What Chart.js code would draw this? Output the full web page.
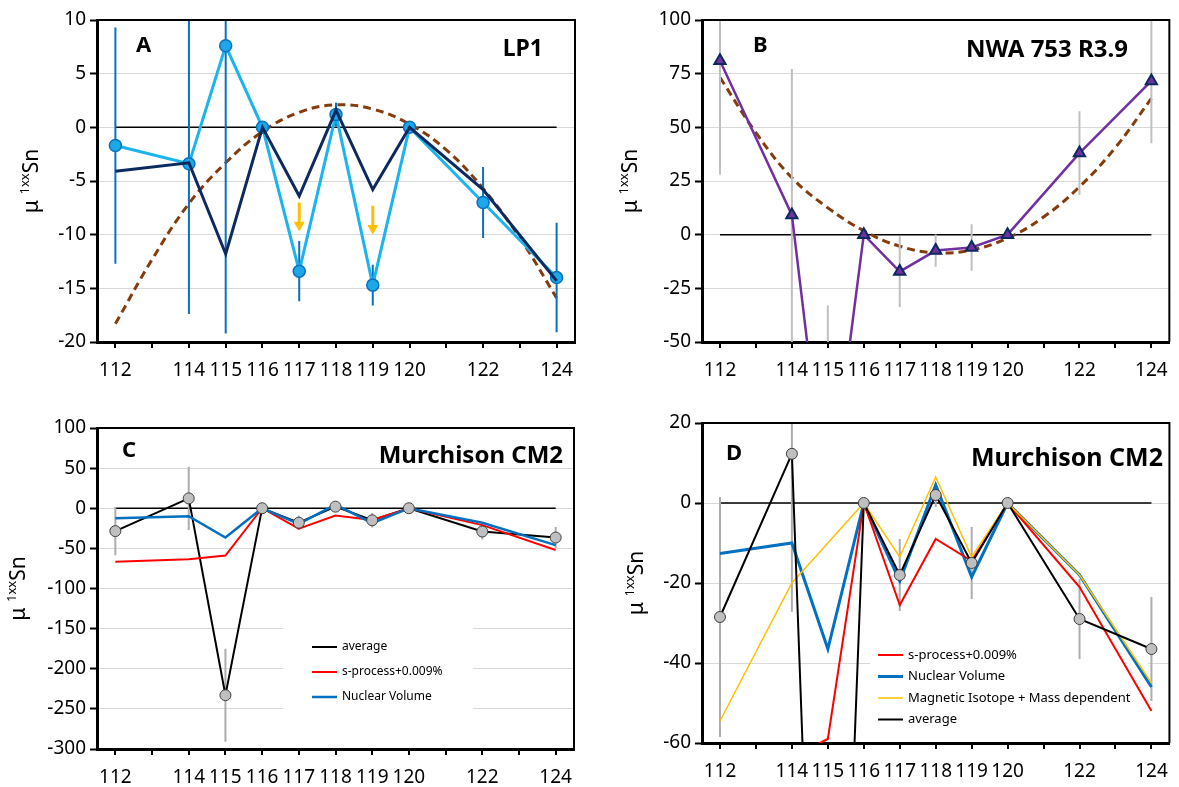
<!DOCTYPE html>
<html>
<head>
<meta charset="utf-8">
<script src="https://cdn.jsdelivr.net/npm/chart.js@4.4.1/dist/chart.umd.min.js"></script>
<style>
  body { margin: 0; width: 1179px; height: 787px; overflow: hidden; background: #fff; position: relative; }
  canvas { position: absolute; }
</style>
</head>
<body>
<canvas id="chartA" width="590" height="390" style="left:0;top:0"></canvas>
<canvas id="chartB" width="589" height="390" style="left:590px;top:0"></canvas>
<canvas id="chartC" width="590" height="400" style="left:0;top:390px"></canvas>
<canvas id="chartD" width="589" height="400" style="left:590px;top:390px"></canvas>
<script>
// Sn isotopes shown in every panel
var masses = [112, 114, 115, 116, 117, 118, 119, 120, 122, 124];
// every tick on the x axis (113, 121 and 123 get no label)
var massTicks = [112, 113, 114, 115, 116, 117, 118, 119, 120, 121, 122, 123, 124];

// A - LP1
var lp1Mu = [-1.7, -3.4, 7.6, 0, -13.4, 1.2, -14.7, 0, -7.0, -14.0];
var lp1Err = [11.0, 14.0, 26.8, 0, 2.8, 1.1, 1.9, 0, 3.3, 5.1];
var lp1Model = [-4.1, -3.3, -11.8, 0, -6.4, 1.6, -5.8, 0, -5.8, -14.3];
var lp1Fit = [-18.3, -12.3, -7.1, -3.3, -0.4, 1.4, 2.1, 1.7, 0.3, -2.1, -5.7, -10.3, -15.9];
var arrowMasses = [117, 119];
var arrowTop = [-7.0, -7.3];
var arrowHead = [-9.1, -9.4];

// B - NWA 753 R3.9
var nwaMu = [81, 9.2, -130, 0, -17.2, -7.4, -6, 0, 38, 71.6];
var nwaErr = [53, 68, 97, 0, 16.5, 7.5, 10.8, 0, 19.5, 29];
var nwaFit = [73.2, 47.5, 26.5, 12.5, 1.8, -5.4, -8.4, -7.1, -1.6, 8.2, 22.3, 40.6, 63.5];

// C, D - Murchison CM2
var murAvg = [-28.5, 12.3, -233, 0, -18, 2, -15, 0, -29, -36.5];
var murErr = [30, 39.5, 58, 0, 9, 3, 9, 0, 10, 13];
var sProcess = [-66.6, -63.5, -59, 0, -25.5, -9, -14.5, 0, -21, -52];
var nuclearVolume = [-12.6, -10, -36.5, 0, -19.5, 4.5, -18.5, 0, -18, -46];
var magneticMass = [-54.5, -20, -10, 0, -13.5, 6.5, -13.5, 0, -18, -45];

function pts(xs, ys) {
  return xs.map(function (x, i) { return { x: x, y: ys[i] }; });
}

// vertical bars, separated by gaps
function errBars(xs, ys, errs) {
  var out = [];
  xs.forEach(function (x, i) {
    if (!errs[i]) return;
    out.push({ x: x, y: ys[i] + errs[i] }, { x: x, y: ys[i] - errs[i] }, { x: x, y: null });
  });
  return out;
}

function zeroLine() {
  return { data: [{ x: 112, y: 0 }, { x: 124, y: 0 }], borderColor: '#000', borderWidth: 1.5, pointRadius: 0 };
}

function makeScales(yMin, yMax, yStep, yWidth, xHeight) {
  return {
    x: {
      type: 'linear', min: 111.5, max: 124.5, offset: false,
      afterBuildTicks: function (s) { s.ticks = massTicks.map(function (v) { return { value: v }; }); },
      afterFit: function (s) { s.height = xHeight; },
      ticks: {
        autoSkip: false, maxRotation: 0, padding: 11, color: '#000',
        callback: function (v) { return masses.indexOf(v) >= 0 ? String(v) : ''; }
      },
      grid: { drawOnChartArea: false, drawTicks: true, tickLength: 6, color: '#000', lineWidth: 2 },
      border: { color: '#000', width: 3 }
    },
    y: {
      min: yMin, max: yMax,
      afterFit: function (s) { s.width = yWidth; },
      ticks: { stepSize: yStep, padding: 4, color: '#000' },
      grid: { color: '#d9d9d9', lineWidth: 1, tickColor: '#000', tickWidth: 2, tickLength: 7 },
      border: { color: '#000', width: 3 }
    }
  };
}

var panelText = {
  id: 'panelText',
  beforeDatasetsDraw: function (chart, args, opts) {
    var lg = opts.legend;
    if (!lg) return;
    var ctx = chart.ctx;
    ctx.save();
    ctx.fillStyle = '#fff';
    ctx.fillRect(lg.box[0], lg.box[1], lg.box[2], lg.box[3]);
    ctx.font = lg.size + 'px "Noto Sans"';
    ctx.textBaseline = 'middle';
    ctx.textAlign = 'left';
    lg.items.forEach(function (di, k) {
      var ds = chart.data.datasets[di];
      var y = lg.y + k * lg.gap;
      ctx.strokeStyle = ds.borderColor;
      ctx.lineWidth = ds.borderWidth;
      ctx.beginPath();
      ctx.moveTo(lg.x, y);
      ctx.lineTo(lg.x + 25, y);
      ctx.stroke();
      ctx.fillStyle = '#000';
      ctx.fillText(ds.label, lg.x + 30, y);
    });
    ctx.restore();
  },
  afterDraw: function (chart, args, opts) {
    var ctx = chart.ctx, area = chart.chartArea;
    ctx.save();
    // top and right edges of the plot box
    ctx.strokeStyle = '#000';
    ctx.lineWidth = 2;
    ctx.beginPath();
    ctx.moveTo(area.left, area.top);
    ctx.lineTo(area.right, area.top);
    ctx.lineTo(area.right, area.bottom);
    ctx.stroke();

    ctx.fillStyle = '#000';
    ctx.textBaseline = 'alphabetic';
    ctx.textAlign = 'left';
    ctx.font = 'bold 22px "Noto Sans"';
    ctx.fillText(opts.letter, opts.letterX, opts.letterY);
    ctx.textAlign = 'right';
    ctx.font = 'bold ' + opts.nameSize + 'px "Noto Sans"';
    ctx.fillText(opts.name, opts.nameRight, opts.nameY);

    // y title: μ ¹ˣˣSn
    ctx.translate(opts.titleX, (area.top + area.bottom) / 2);
    ctx.rotate(-Math.PI / 2);
    var big = '21px "Noto Sans"', small = '13px "Noto Sans"';
    ctx.font = big;
    var w1 = ctx.measureText('μ ').width, w3 = ctx.measureText('Sn').width;
    ctx.font = small;
    var w2 = ctx.measureText('1xx').width;
    var x0 = -(w1 + w2 + w3) / 2;
    ctx.textAlign = 'left';
    ctx.font = big;
    ctx.fillText('μ ', x0, 0);
    ctx.font = small;
    ctx.fillText('1xx', x0 + w1, -9);
    ctx.font = big;
    ctx.fillText('Sn', x0 + w1 + w2, 0);
    ctx.restore();
  }
};

Chart.defaults.font.family = '"Noto Sans", sans-serif';
Chart.defaults.font.size = 19;
Chart.defaults.color = '#000';
Chart.defaults.animation = false;
Chart.defaults.plugins.legend.display = false;
Chart.defaults.plugins.tooltip.enabled = false;
Chart.defaults.elements.line.tension = 0;

function draw(id, datasets, scales, padding, textOpts) {
  return new Chart(document.getElementById(id), {
    type: 'line',
    data: { datasets: datasets },
    options: {
      responsive: false,
      layout: { padding: padding },
      scales: scales,
      plugins: { panelText: textOpts }
    },
    plugins: [panelText]
  });
}

// ---- A ----
var arrowShafts = [];
arrowMasses.forEach(function (m, i) {
  arrowShafts.push({ x: m, y: arrowTop[i] }, { x: m, y: arrowHead[i] }, { x: m, y: null });
});
draw('chartA', [
  { data: pts(arrowMasses, arrowHead), showLine: false, pointStyle: 'triangle', rotation: 180,
    pointRadius: 5.5, pointBackgroundColor: '#FFC000', pointBorderColor: '#FFC000', pointBorderWidth: 1 },
  { data: arrowShafts, borderColor: '#FFC000', borderWidth: 3, pointRadius: 0, spanGaps: false },
  { data: pts(masses, lp1Model), borderColor: '#0C2A60', borderWidth: 3, pointRadius: 0 },
  { data: pts(masses, lp1Mu), borderColor: '#1CB4EC', borderWidth: 3, pointRadius: 6,
    pointBackgroundColor: '#1CA8E8', pointBorderColor: '#0A70C0', pointBorderWidth: 1.5 },
  { data: errBars(masses, lp1Mu, lp1Err), borderColor: '#0A70C0', borderWidth: 2, pointRadius: 0, spanGaps: false },
  { data: pts(massTicks, lp1Fit), borderColor: '#843C0C', borderWidth: 3, borderDash: [8, 5], pointRadius: 0, tension: 0.4 },
  zeroLine()
], makeScales(-20, 10, 5, 97, 48), { left: 0, top: 20, right: 15, bottom: 0 },
{ letter: 'A', letterX: 136, letterY: 52, name: 'LP1', nameSize: 23, nameRight: 543, nameY: 56, titleX: 38 });

// ---- B ----
draw('chartB', [
  { data: pts(masses, nwaMu), borderColor: '#7030A0', borderWidth: 2.5, pointStyle: 'triangle', pointRadius: 6.5,
    pointBackgroundColor: '#7030A0', pointBorderColor: '#0C2A60', pointBorderWidth: 2 },
  { data: errBars(masses, nwaMu, nwaErr), borderColor: '#C0C0C0', borderWidth: 2, pointRadius: 0, spanGaps: false },
  { data: pts(massTicks, nwaFit), borderColor: '#843C0C', borderWidth: 3, borderDash: [8, 5], pointRadius: 0, tension: 0.4 },
  zeroLine()
], makeScales(-50, 100, 25, 112, 48), { left: 0, top: 20, right: 2, bottom: 0 },
{ letter: 'B', letterX: 163, letterY: 52, name: 'NWA 753 R3.9', nameSize: 24, nameRight: 538, nameY: 57, titleX: 47 });

// ---- C ----
draw('chartC', [
  { data: pts(masses, murAvg), showLine: false, pointRadius: 5.5,
    pointBackgroundColor: '#BFBFBF', pointBorderColor: '#404040', pointBorderWidth: 1 },
  { label: 'Nuclear Volume', data: pts(masses, nuclearVolume), borderColor: '#0070C0', borderWidth: 2.5, pointRadius: 0 },
  { label: 's-process+0.009%', data: pts(masses, sProcess), borderColor: '#FF0000', borderWidth: 2, pointRadius: 0 },
  { label: 'average', data: pts(masses, murAvg), borderColor: '#000', borderWidth: 2, pointRadius: 0 },
  { data: errBars(masses, murAvg, murErr), borderColor: '#ADADAD', borderWidth: 2, pointRadius: 0, spanGaps: false },
  zeroLine()
], makeScales(-300, 100, 50, 97, 41), { left: 0, top: 38, right: 16, bottom: 0 },
{ letter: 'C', letterX: 122, letterY: 67, name: 'Murchison CM2', nameSize: 24, nameRight: 563, nameY: 73, titleX: 25,
  legend: { box: [283, 238, 190, 88], x: 312, y: 257, gap: 25, size: 12, items: [3, 2, 1] } });

// ---- D ----
draw('chartD', [
  { data: pts(masses, murAvg), showLine: false, pointRadius: 5.5,
    pointBackgroundColor: '#BFBFBF', pointBorderColor: '#404040', pointBorderWidth: 1 },
  { label: 'average', data: pts(masses, murAvg), borderColor: '#000', borderWidth: 2, pointRadius: 0 },
  { label: 'Magnetic Isotope + Mass dependent', data: pts(masses, magneticMass), borderColor: '#FFC000', borderWidth: 1.5, pointRadius: 0 },
  { label: 's-process+0.009%', data: pts(masses, sProcess), borderColor: '#FF0000', borderWidth: 2, pointRadius: 0 },
  { label: 'Nuclear Volume', data: pts(masses, nuclearVolume), borderColor: '#0070C0', borderWidth: 3, pointRadius: 0 },
  { data: errBars(masses, murAvg, murErr), borderColor: '#ADADAD', borderWidth: 2, pointRadius: 0, spanGaps: false },
  zeroLine()
], makeScales(-60, 20, 20, 112, 47), { left: 0, top: 33, right: 2, bottom: 0 },
{ letter: 'D', letterX: 136, letterY: 70, name: 'Murchison CM2', nameSize: 25, nameRight: 573, nameY: 76, titleX: 53,
  legend: { box: [280, 253, 278, 88], x: 288, y: 265, gap: 21.5, size: 13, items: [3, 4, 2, 1] } });
</script>
</body>
</html>
